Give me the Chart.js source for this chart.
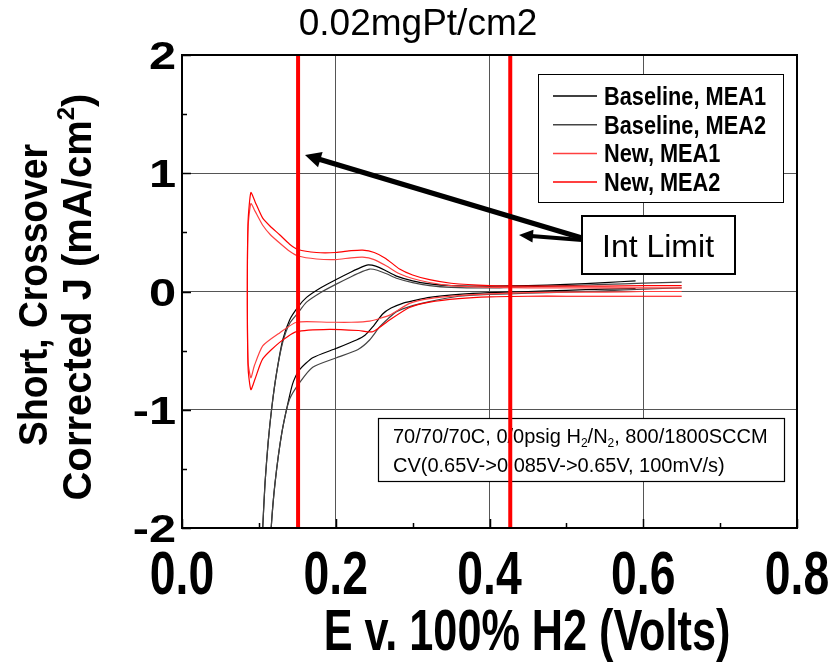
<!DOCTYPE html>
<html>
<head>
<meta charset="utf-8">
<script src="https://cdn.jsdelivr.net/npm/chart.js@4.4.1/dist/chart.umd.min.js"></script>
<style>
  html, body { margin: 0; padding: 0; background: #fff; }
  canvas { display: block; }
</style>
</head>
<body>
<canvas id="chart" width="832" height="662"></canvas>
<script>
'use strict';

// axes
var xMin = 0, xMax = 0.8, xStep = 0.2;
var yMin = -2, yMax = 2, yStep = 1;
var xTickLabels = ['0.0', '0.2', '0.4', '0.6', '0.8'];
var yTickLabels = ['-2', '-1', '0', '1', '2'];

// integration limits (V)
var intLimitX = [0.151, 0.427];

var seriesNames = ['Baseline, MEA1', 'Baseline, MEA2', 'New, MEA1', 'New, MEA2'];

// Baseline, MEA1 : cathodic sweep then anodic sweep
var baseMea1X = [0.59, 0.55, 0.50, 0.45, 0.40, 0.36, 0.322, 0.30, 0.287, 0.272, 0.261, 0.248, 0.238, 0.227, 0.201, 0.170, 0.153, 0.145, 0.140, 0.130, 0.121, 0.116, 0.112, 0.100, 0.085,
  0.095, 0.102, 0.105, 0.108, 0.112, 0.117, 0.123, 0.131, 0.140, 0.151, 0.162, 0.180, 0.200, 0.220, 0.235, 0.242, 0.252, 0.264, 0.279, 0.300, 0.322, 0.350, 0.400, 0.450, 0.500, 0.550, 0.590];
var baseMea1Y = [0.025, 0.02, 0.01, 0.0, -0.01, -0.025, -0.05, -0.08, -0.10, -0.14, -0.19, -0.30, -0.37, -0.41, -0.48, -0.56, -0.66, -0.76, -0.88, -1.19, -1.62, -2.0, -2.5, -4, -6,
  -4, -2.5, -2.0, -1.62, -1.28, -0.97, -0.69, -0.41, -0.24, -0.13, -0.05, 0.03, 0.10, 0.165, 0.21, 0.225, 0.215, 0.18, 0.13, 0.09, 0.065, 0.05, 0.045, 0.05, 0.06, 0.075, 0.09];

// Baseline, MEA2
var baseMea2X = [0.65, 0.60, 0.55, 0.50, 0.45, 0.40, 0.36, 0.322, 0.30, 0.279, 0.268, 0.257, 0.244, 0.229, 0.201, 0.170, 0.153, 0.140, 0.130, 0.121, 0.116, 0.112, 0.100, 0.085,
  0.095, 0.102, 0.105, 0.108, 0.112, 0.117, 0.123, 0.131, 0.140, 0.151, 0.162, 0.180, 0.200, 0.220, 0.235, 0.244, 0.254, 0.266, 0.280, 0.300, 0.322, 0.350, 0.400, 0.450, 0.500, 0.550, 0.600, 0.650];
var baseMea2Y = [0.03, 0.02, 0.005, -0.005, -0.015, -0.025, -0.04, -0.085, -0.12, -0.17, -0.23, -0.30, -0.41, -0.49, -0.56, -0.64, -0.77, -0.91, -1.19, -1.62, -2.0, -2.5, -4, -6,
  -4, -2.5, -2.0, -1.62, -1.28, -0.97, -0.69, -0.43, -0.27, -0.18, -0.09, -0.01, 0.06, 0.125, 0.17, 0.19, 0.18, 0.15, 0.11, 0.075, 0.05, 0.035, 0.03, 0.04, 0.05, 0.06, 0.07, 0.08];

// New, MEA1
var newMea1X = [0.65, 0.60, 0.55, 0.50, 0.45, 0.40, 0.36, 0.322, 0.296, 0.27, 0.244, 0.22, 0.192, 0.149, 0.127, 0.105, 0.094, 0.0896, 0.086, 0.085,
  0.086, 0.0896, 0.095, 0.105, 0.115, 0.127, 0.14, 0.151, 0.175, 0.2, 0.22, 0.235, 0.25, 0.265, 0.283, 0.30, 0.322, 0.35, 0.40, 0.45, 0.50, 0.55, 0.60, 0.65];
var newMea1Y = [0.0, 0.0, -0.005, -0.005, -0.01, -0.02, -0.035, -0.06, -0.10, -0.2, -0.25, -0.26, -0.26, -0.26, -0.35, -0.46, -0.63, -0.73, -0.6, 0.0,
  0.55, 0.744, 0.68, 0.56, 0.48, 0.41, 0.34, 0.30, 0.275, 0.27, 0.285, 0.29, 0.27, 0.22, 0.15, 0.11, 0.076, 0.05, 0.035, 0.03, 0.03, 0.03, 0.03, 0.03];

// New, MEA2
var newMea2X = [0.65, 0.60, 0.55, 0.50, 0.45, 0.40, 0.36, 0.322, 0.296, 0.27, 0.248, 0.23, 0.192, 0.149, 0.127, 0.105, 0.095, 0.0896, 0.086, 0.085,
  0.086, 0.0896, 0.095, 0.105, 0.115, 0.127, 0.14, 0.151, 0.175, 0.2, 0.22, 0.235, 0.25, 0.265, 0.283, 0.30, 0.322, 0.35, 0.40, 0.45, 0.50, 0.55, 0.60, 0.65];
var newMea2Y = [-0.04, -0.04, -0.04, -0.04, -0.04, -0.045, -0.06, -0.09, -0.135, -0.24, -0.34, -0.33, -0.32, -0.34, -0.43, -0.57, -0.74, -0.83, -0.65, 0.0,
  0.6, 0.837, 0.76, 0.62, 0.55, 0.48, 0.40, 0.355, 0.33, 0.33, 0.345, 0.35, 0.33, 0.28, 0.19, 0.14, 0.10, 0.07, 0.05, 0.045, 0.045, 0.045, 0.05, 0.05];

var seriesColors = ['#000000', '#444444', '#ff4040', '#ff0000'];

function toPoints(xs, ys) {
  var pts = [];
  for (var i = 0; i < xs.length; i++) {
    pts.push({ x: xs[i], y: ys[i] });
  }
  return pts;
}

function curve(name, xs, ys, color) {
  return {
    label: name,
    data: toPoints(xs, ys),
    borderColor: color,
    borderWidth: 1.2,
    showLine: true,
    pointRadius: 0,
    tension: 0.2
  };
}

var datasets = [];
// first ones are drawn on top
for (var k = 0; k < intLimitX.length; k++) {
  datasets.push({
    label: 'limit' + k,
    data: [{ x: intLimitX[k], y: yMin }, { x: intLimitX[k], y: yMax }],
    borderColor: '#ff0000',
    borderWidth: 4,
    showLine: true,
    pointRadius: 0
  });
}
datasets.push(curve(seriesNames[3], newMea2X, newMea2Y, seriesColors[3]));
datasets.push(curve(seriesNames[2], newMea1X, newMea1Y, seriesColors[2]));
datasets.push(curve(seriesNames[1], baseMea2X, baseMea2Y, seriesColors[1]));
datasets.push(curve(seriesNames[0], baseMea1X, baseMea1Y, seriesColors[0]));

var FAM = "'Liberation Sans', Arial, Helvetica, sans-serif";

// segs: [text, 0 normal | 1 sup | -1 sub]
function drawRich(ctx, segs, x, y, size, bold, sx, align, angle) {
  ctx.save();
  ctx.translate(x, y);
  if (angle) ctx.rotate(angle);
  ctx.scale(sx, 1);
  ctx.textBaseline = 'alphabetic';
  ctx.textAlign = 'left';
  ctx.fillStyle = '#000';
  var w = 0;
  segs.forEach(function (s) {
    var fs = s[1] ? size * 0.6 : size;
    ctx.font = (bold ? 'bold ' : '') + fs + 'px ' + FAM;
    w += ctx.measureText(s[0]).width;
  });
  var cx = align === 'center' ? -w / 2 : (align === 'right' ? -w : 0);
  segs.forEach(function (s) {
    var fs = s[1] ? size * 0.6 : size;
    ctx.font = (bold ? 'bold ' : '') + fs + 'px ' + FAM;
    var dy = s[1] === 1 ? -size * 0.42 : (s[1] === -1 ? size * 0.22 : 0);
    ctx.fillText(s[0], cx, dy);
    cx += ctx.measureText(s[0]).width;
  });
  ctx.restore();
}

function drawArrow(ctx, x0, y0, x1, y1, lw, headLen, headW) {
  var a = Math.atan2(y1 - y0, x1 - x0);
  var bx = x1 - Math.cos(a) * headLen, by = y1 - Math.sin(a) * headLen;
  ctx.save();
  ctx.strokeStyle = '#000';
  ctx.fillStyle = '#000';
  ctx.lineWidth = lw;
  ctx.beginPath();
  ctx.moveTo(x0, y0);
  ctx.lineTo(bx + Math.cos(a) * 2, by + Math.sin(a) * 2);
  ctx.stroke();
  ctx.beginPath();
  ctx.moveTo(x1, y1);
  ctx.lineTo(bx + Math.sin(a) * headW / 2, by - Math.cos(a) * headW / 2);
  ctx.lineTo(bx - Math.sin(a) * headW / 2, by + Math.cos(a) * headW / 2);
  ctx.closePath();
  ctx.fill();
  ctx.restore();
}

function box(ctx, x, y, w, h, lw) {
  ctx.save();
  ctx.fillStyle = '#fff';
  ctx.fillRect(x, y, w, h);
  ctx.strokeStyle = '#000';
  ctx.lineWidth = lw;
  ctx.strokeRect(x, y, w, h);
  ctx.restore();
}

var decor = {
  id: 'decor',
  beforeDraw: function (chart) {
    var ctx = chart.ctx;
    ctx.save();
    ctx.fillStyle = '#fff';
    ctx.fillRect(0, 0, chart.width, chart.height);
    ctx.restore();
  },
  beforeDatasetsDraw: function (chart) {
    var ctx = chart.ctx;
    // legend
    box(ctx, 538.5, 74.5, 245, 128, 1);
    for (var i = 0; i < seriesNames.length; i++) {
      var ry = 96 + i * 28.7;
      ctx.save();
      ctx.strokeStyle = seriesColors[i];
      ctx.lineWidth = 1.5;
      ctx.beginPath();
      ctx.moveTo(553, ry);
      ctx.lineTo(597, ry);
      ctx.stroke();
      ctx.restore();
      drawRich(ctx, [[seriesNames[i], 0]], 604, ry + 9, 25, true, 0.87, 'left');
    }
    // Int Limit label
    box(ctx, 582, 216, 153, 58, 2);
    drawRich(ctx, [['Int Limit', 0]], 658, 257, 32, false, 1, 'center');
    // conditions
    box(ctx, 378.5, 418.5, 406, 63, 1.2);
    drawRich(ctx, [['70/70/70C, 0/0psig H', 0], ['2', -1], ['/N', 0], ['2', -1], [', 800/1800SCCM', 0]], 393, 443, 20, false, 1, 'left');
    drawRich(ctx, [['CV(0.65V->0.085V->0.65V, 100mV/s)', 0]], 393, 472, 20, false, 1, 'left');
  },
  afterDatasetsDraw: function (chart) {
    var ctx = chart.ctx;
    var ca = chart.chartArea;
    var xs = chart.scales.x, ys = chart.scales.y;
    ctx.save();
    ctx.strokeStyle = '#000';
    // minor / major ticks pointing inward
    ctx.lineWidth = 1.5;
    ctx.beginPath();
    for (var v = xMin; v <= xMax + 1e-9; v += xStep / 2) {
      var px = Math.round(xs.getPixelForValue(v)) + 0.5;
      var major = Math.abs(v / xStep - Math.round(v / xStep)) < 1e-6;
      ctx.moveTo(px, ca.bottom);
      ctx.lineTo(px, ca.bottom - (major ? 9 : 5));
    }
    for (var w = yMin; w <= yMax + 1e-9; w += yStep / 2) {
      var py = Math.round(ys.getPixelForValue(w)) + 0.5;
      var majorY = Math.abs(w / yStep - Math.round(w / yStep)) < 1e-6;
      ctx.moveTo(ca.left, py);
      ctx.lineTo(ca.left + (majorY ? 9 : 5), py);
    }
    ctx.stroke();
    // frame
    ctx.lineWidth = 2;
    ctx.strokeRect(ca.left, ca.top, ca.right - ca.left, ca.bottom - ca.top);
    ctx.restore();

    // arrows
    drawArrow(ctx, 582, 238, 305, 155, 5, 16, 16);
    drawArrow(ctx, 582, 240, 519, 235, 4, 14, 13);

    // tick labels
    for (var i = 0; i < xTickLabels.length; i++) {
      var tx = xs.getPixelForValue(xMin + i * xStep);
      drawRich(ctx, [[xTickLabels[i], 0]], tx, 594, 61, true, 0.76, 'center');
    }
    for (var j = 0; j < yTickLabels.length; j++) {
      var ty = ys.getPixelForValue(yMin + j * yStep);
      drawRich(ctx, [[yTickLabels[j], 0]], 176, ty + 14, 39, true, 1.25, 'right');
    }

    // titles
    drawRich(ctx, [['0.02mgPt/cm2', 0]], 418, 35, 37, false, 1, 'center');
    drawRich(ctx, [['E v. 100% H2 (Volts)', 0]], 527, 650, 58, true, 0.745, 'center');
    drawRich(ctx, [['Short, Crossover', 0]], 47, 295, 40, true, 0.93, 'center', -Math.PI / 2);
    drawRich(ctx, [['Corrected J (mA/cm', 0], ['2', 1], [')', 0]], 91, 297, 40, true, 1.0, 'center', -Math.PI / 2);
  }
};

var ctx = document.getElementById('chart').getContext('2d');

var chart = new Chart(ctx, {
  type: 'scatter',
  data: { datasets: datasets },
  options: {
    responsive: false,
    animation: false,
    layout: { padding: { left: 182, top: 55, right: 35, bottom: 134 } },
    plugins: {
      legend: { display: false },
      tooltip: { enabled: false }
    },
    scales: {
      x: {
        type: 'linear',
        min: xMin,
        max: xMax,
        ticks: { stepSize: xStep, display: false },
        grid: { color: '#555', lineWidth: 1, drawTicks: false },
        border: { display: false },
        title: { display: false }
      },
      y: {
        type: 'linear',
        min: yMin,
        max: yMax,
        ticks: { stepSize: yStep, display: false },
        grid: { color: '#555', lineWidth: 1, drawTicks: false },
        border: { display: false },
        title: { display: false }
      }
    }
  },
  plugins: [decor]
});
</script>
</body>
</html>
